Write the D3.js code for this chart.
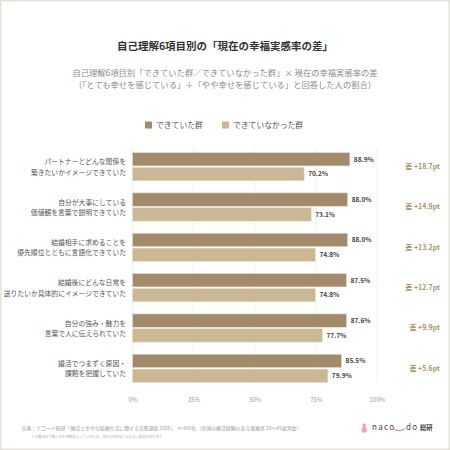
<!DOCTYPE html>
<html>
<head>
<meta charset="utf-8">
<script src="https://d3js.org/d3.v7.min.js"></script>
<style>
  body { margin: 0; background: #fff; }
  svg { display: block; font-family: "Noto Sans CJK JP", "Noto Sans", sans-serif; }
</style>
</head>
<body>
<script>
// data
var categories = [
  ["パートナーとどんな関係を", "築きたいかイメージできていた"],
  ["自分が大事にしている", "価値観を言葉で説明できていた"],
  ["結婚相手に求めることを", "優先順位とともに言語化できていた"],
  ["結婚後にどんな日常を", "送りたいか具体的にイメージできていた"],
  ["自分の強み・魅力を", "言葉で人に伝えられていた"],
  ["婚活でつまずく原因・", "課題を把握していた"]
];
var seriesNames = ["できていた群", "できていなかった群"];
var doneValues = [88.9, 88.0, 88.0, 87.5, 87.6, 85.5];
var notDoneValues = [70.2, 73.1, 74.8, 74.8, 77.7, 79.9];
var diffLabels = ["差 +18.7pt", "差 +14.9pt", "差 +13.2pt", "差 +12.7pt", "差 +9.9pt", "差 +5.6pt"];
var tickValues = [0, 25, 50, 75, 100];

var W = 450, H = 450;
var colors = ["#a28a6b", "#c9b893"];

var svg = d3.select("body").append("svg").attr("width", W).attr("height", H);

// frame
svg.append("rect").attr("x", 0.75).attr("y", 0.75).attr("width", W - 1.5).attr("height", H - 1.5)
  .attr("fill", "#fff").attr("stroke", "#e4e1d6").attr("stroke-width", 1.5);

// titles
svg.append("text").attr("x", 225).attr("y", 49.5).attr("text-anchor", "middle")
  .attr("font-size", 10.5).attr("font-weight", "bold").attr("fill", "#333")
  .text("自己理解6項目別の「現在の幸福実感率の差」");
svg.append("text").attr("x", 225).attr("y", 75.5).attr("text-anchor", "middle")
  .attr("font-size", 8.3).attr("fill", "#8a8a8a")
  .text("自己理解6項目別「できていた群／できていなかった群」× 現在の幸福実感率の差");
svg.append("text").attr("x", 225).attr("y", 87.5).attr("text-anchor", "middle")
  .attr("font-size", 8.3).attr("fill", "#8a8a8a")
  .text("（「とても幸せを感じている」＋「やや幸せを感じている」と回答した人の割合）");

// legend
var legendX = [145, 222];
seriesNames.forEach(function(name, i) {
  svg.append("rect").attr("x", legendX[i]).attr("y", 121.5).attr("width", 7).attr("height", 7)
    .attr("fill", colors[i]);
  svg.append("text").attr("x", legendX[i] + 11).attr("y", 128).attr("font-size", 7.8)
    .attr("fill", "#555").text(name);
});

// scales
var x = d3.scaleLinear().domain([0, 100]).range([132.5, 377]);
var y = d3.scaleBand().domain(d3.range(categories.length)).range([146.5, 388.5])
  .paddingInner(0.3).paddingOuter(0.15);
var ySub = d3.scaleBand().domain([0, 1]).range([0, y.bandwidth()]).paddingInner(0.1);

// grid
svg.append("g").selectAll("line").data(tickValues).join("line")
  .attr("x1", d => x(d)).attr("x2", d => x(d))
  .attr("y1", 148).attr("y2", 383)
  .attr("stroke", "#ececec").attr("stroke-width", 0.8);

// x axis labels
var xAxis = svg.append("g").attr("transform", "translate(0,395)")
  .call(d3.axisBottom(x).tickValues(tickValues).tickFormat(d => d + "%").tickSize(0));
xAxis.select(".domain").remove();
xAxis.selectAll("text").attr("font-size", 6).attr("fill", "#9a9a9a")
  .attr("font-family", "Noto Sans CJK JP, sans-serif");

// bars
var rows = categories.map(function(c, i) {
  return { i: i, vals: [doneValues[i], notDoneValues[i]] };
});
var g = svg.append("g").selectAll("g").data(rows).join("g")
  .attr("transform", d => "translate(0," + y(d.i) + ")");

g.selectAll("rect").data(d => d.vals.map((v, k) => ({ v: v, k: k }))).join("rect")
  .attr("x", x(0)).attr("y", d => ySub(d.k))
  .attr("width", d => x(d.v) - x(0)).attr("height", ySub.bandwidth())
  .attr("fill", d => colors[d.k]).attr("stroke", "#e8e0d0").attr("stroke-width", 0.6);

g.selectAll("text.val").data(d => d.vals.map((v, k) => ({ v: v, k: k }))).join("text")
  .attr("class", "val")
  .attr("x", d => x(d.v) + 4).attr("y", d => ySub(d.k) + ySub.bandwidth() / 2 + 2.3)
  .attr("font-size", 6.5).attr("font-weight", "bold").attr("fill", "#444")
  .text(d => d.v.toFixed(1) + "%");

// category labels
g.each(function(d) {
  var mid = y.bandwidth() / 2;
  var t = d3.select(this).append("text").attr("text-anchor", "end")
    .attr("font-size", 6.8).attr("fill", "#555");
  t.append("tspan").attr("x", 126).attr("y", mid - 2.2).text(categories[d.i][0]);
  t.append("tspan").attr("x", 126).attr("y", mid + 7.9).text(categories[d.i][1]);
});

// difference labels
g.append("text").attr("x", 440).attr("y", y.bandwidth() / 2 + 2.5)
  .attr("text-anchor", "end").attr("font-size", 7).attr("font-weight", "bold")
  .attr("fill", "#a89168").text(d => diffLabels[d.i]);

// footer
svg.append("text").attr("x", 21.5).attr("y", 429.5).attr("font-size", 4.9).attr("fill", "#9a9a9a")
  .text("出典：ナコード総研「婚活と幸せな結婚生活に関する実態調査 2026」　n=800名（全国の婚活経験のある既婚者 20〜49歳男女）");
svg.append("text").attr("x", 31.5).attr("y", 438).attr("font-size", 3.4).attr("fill", "#aaa")
  .text("※小数点以下第二位を四捨五入しているため、合計が100%にならない場合があります");

// logo
var logo = svg.append("g");
logo.append("circle").attr("cx", 364.2).attr("cy", 425.3).attr("r", 1.8).attr("fill", "#f2a0ab");
logo.append("ellipse").attr("cx", 364.2).attr("cy", 429.8).attr("rx", 2.7).attr("ry", 3).attr("fill", "#f2a0ab");
logo.append("text").attr("x", 372).attr("y", 430.3).attr("font-size", 8).attr("fill", "#444")
  .attr("letter-spacing", 1.3).text("naco");
logo.append("path").attr("d", "M393,428.5 Q399,433 405,428.5").attr("fill", "none")
  .attr("stroke", "#e4788c").attr("stroke-width", 1);
logo.append("text").attr("x", 406).attr("y", 430.3).attr("font-size", 8).attr("fill", "#444")
  .attr("letter-spacing", 1.3).text("do");
logo.append("text").attr("x", 420).attr("y", 430.3).attr("font-size", 6.3).attr("font-weight", "bold")
  .attr("fill", "#444").text("総研");
</script>
</body>
</html>
